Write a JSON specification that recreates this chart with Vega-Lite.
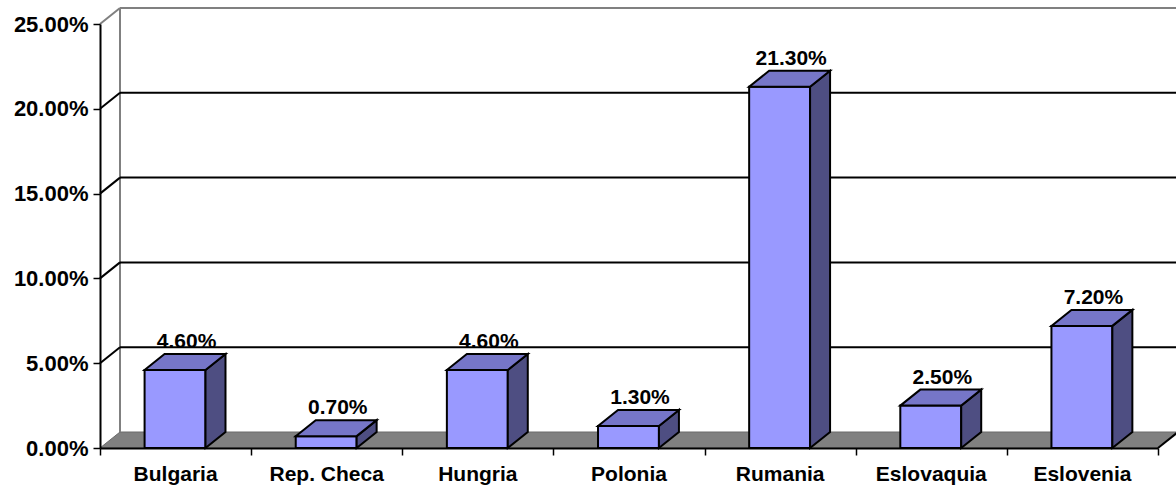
{
  "$schema": "https://vega.github.io/schema/vega-lite/v6.json",
  "width": 1058,
  "height": 424,
  "autosize": {"type": "none"},
  "padding": {"left": 100, "top": 24, "right": 18, "bottom": 39},
  "background": "white",
  "config": {"view": {"stroke": null}},
  "datasets": {
    "bars": [
      {"country": "Bulgaria", "value": 4.6},
      {"country": "Rep. Checa", "value": 0.7},
      {"country": "Hungria", "value": 4.6},
      {"country": "Polonia", "value": 1.3},
      {"country": "Rumania", "value": 21.3},
      {"country": "Eslovaquia", "value": 2.5},
      {"country": "Eslovenia", "value": 7.2}
    ],
    "ticks": [{"v": 0}, {"v": 5}, {"v": 10}, {"v": 15}, {"v": 20}, {"v": 25}]
  },
  "layer": [
    {
      "data": {"name": "ticks"},
      "transform": [
        {"filter": "datum.v == 0"},
        {"calculate": "[0,1,2,3]", "as": "k"},
        {"flatten": ["k"]},
        {"calculate": "(datum.k % 2)*0.13233 + (datum.k >= 2 ? 7 : 0)", "as": "fx"},
        {"calculate": "datum.k == 3 ? 0.9434 : 0", "as": "fy"},
        {"calculate": "datum.k >= 1 ? 0.9434 : 0", "as": "fy2"}
      ],
      "mark": {"type": "area", "fill": "#808080", "stroke": "#6a6a6a", "strokeWidth": 1},
      "encoding": {
        "x": {"field": "fx", "type": "quantitative", "scale": {"domain": [0, 7]},
              "axis": {"values": [0, 1, 2, 3, 4, 5, 6, 7], "labels": false, "title": null, "grid": false,
                       "tickSize": 7, "tickColor": "black", "tickWidth": 1.5, "domainColor": "black", "domainWidth": 2, "zindex": 1}},
        "y": {"field": "fy", "type": "quantitative", "scale": {"domain": [0, 25]},
              "axis": {"values": [0, 5, 10, 15, 20, 25], "labelExpr": "format(datum.value/100, '.2%')", "title": null, "grid": false,
                       "labelFont": "Liberation Sans", "labelFontWeight": "bold", "labelFontSize": 22, "labelColor": "black",
                       "labelPadding": 5, "tickSize": 7, "tickColor": "black", "tickWidth": 1.5, "domainColor": "black", "domainWidth": 2, "zindex": 1}},
        "y2": {"field": "fy2"}
      }
    },
    {
      "data": {"name": "ticks"},
      "transform": [{"filter": "datum.v == 0"}],
      "mark": {"type": "rule", "color": "#808080", "strokeWidth": 2, "xOffset": 20, "yOffset": -16, "y2Offset": -16},
      "encoding": {
        "x": {"datum": 0, "type": "quantitative", "scale": {"domain": [0, 7]}},
        "y": {"datum": 0, "type": "quantitative", "scale": {"domain": [0, 25]}},
        "y2": {"datum": 25}
      }
    },
    {
      "data": {"name": "ticks"},
      "transform": [{"filter": "datum.v > 0 && datum.v < 25"}],
      "mark": {"type": "rule", "color": "black", "strokeWidth": 2, "xOffset": 20, "x2Offset": 20, "yOffset": -16, "y2Offset": -16},
      "encoding": {
        "x": {"datum": 0, "type": "quantitative", "scale": {"domain": [0, 7]}},
        "x2": {"datum": 7.2},
        "y": {"field": "v", "type": "quantitative", "scale": {"domain": [0, 25]}},
        "y2": {"field": "v"}
      }
    },
    {
      "data": {"name": "ticks"},
      "transform": [{"filter": "datum.v == 25"}],
      "mark": {"type": "rule", "color": "#808080", "strokeWidth": 2, "xOffset": 20, "x2Offset": 20, "yOffset": -16, "y2Offset": -16},
      "encoding": {
        "x": {"datum": 0, "type": "quantitative", "scale": {"domain": [0, 7]}},
        "x2": {"datum": 7.2},
        "y": {"field": "v", "type": "quantitative", "scale": {"domain": [0, 25]}},
        "y2": {"field": "v"}
      }
    },
    {
      "data": {"name": "ticks"},
      "transform": [{"filter": "datum.v > 0 && datum.v < 25"}],
      "mark": {"type": "rule", "color": "black", "strokeWidth": 2, "x2Offset": 20, "y2Offset": -16},
      "encoding": {
        "x": {"datum": 0, "type": "quantitative", "scale": {"domain": [0, 7]}},
        "x2": {"datum": 0},
        "y": {"field": "v", "type": "quantitative", "scale": {"domain": [0, 25]}},
        "y2": {"field": "v"}
      }
    },
    {
      "data": {"name": "ticks"},
      "transform": [{"filter": "datum.v == 25"}],
      "mark": {"type": "rule", "color": "#808080", "strokeWidth": 2, "x2Offset": 20, "y2Offset": -16},
      "encoding": {
        "x": {"datum": 0, "type": "quantitative", "scale": {"domain": [0, 7]}},
        "x2": {"datum": 0},
        "y": {"field": "v", "type": "quantitative", "scale": {"domain": [0, 25]}},
        "y2": {"field": "v"}
      }
    },
    {
      "data": {"name": "ticks"},
      "transform": [{"filter": "datum.v == 0"}],
      "mark": {"type": "rule", "color": "black", "strokeWidth": 2, "x2Offset": 20, "y2Offset": -16},
      "encoding": {
        "x": {"datum": 7, "type": "quantitative", "scale": {"domain": [0, 7]}},
        "x2": {"datum": 7},
        "y": {"field": "v", "type": "quantitative", "scale": {"domain": [0, 25]}},
        "y2": {"field": "v"}
      }
    },
    {
      "data": {"name": "bars"},
      "transform": [
        {"window": [{"op": "row_number", "as": "n"}]},
        {"calculate": "datum.n-1+0.295", "as": "bx"},
        {"calculate": "datum.n-1+0.698", "as": "bx2"},
        {"calculate": "0", "as": "base"}
      ],
      "mark": {"type": "rect", "fill": "#9999FF", "stroke": "black", "strokeWidth": 2, "strokeJoin": "miter"},
      "encoding": {
        "x": {"field": "bx", "type": "quantitative", "scale": {"domain": [0, 7]}},
        "x2": {"field": "bx2"},
        "y": {"field": "base", "type": "quantitative", "scale": {"domain": [0, 25]}},
        "y2": {"field": "value"}
      }
    },
    {
      "data": {"name": "bars"},
      "transform": [
        {"window": [{"op": "row_number", "as": "n"}]},
        {"calculate": "[0,1]", "as": "t"},
        {"flatten": ["t"]},
        {"calculate": "datum.n-1+0.698+datum.t*0.13233", "as": "sx"},
        {"calculate": "datum.t*0.9434", "as": "sy"},
        {"calculate": "datum.value+datum.t*0.9434", "as": "sy2"}
      ],
      "mark": {"type": "area", "fill": "#4E4E82", "stroke": "black", "strokeWidth": 2, "strokeJoin": "miter"},
      "encoding": {
        "x": {"field": "sx", "type": "quantitative", "scale": {"domain": [0, 7]}},
        "y": {"field": "sy", "type": "quantitative", "scale": {"domain": [0, 25]}},
        "y2": {"field": "sy2"},
        "detail": {"field": "country"}
      }
    },
    {
      "data": {"name": "bars"},
      "transform": [
        {"window": [{"op": "row_number", "as": "n"}]},
        {"calculate": "[0,1,2,3]", "as": "k"},
        {"flatten": ["k"]},
        {"calculate": "datum.n-1+0.295+(datum.k % 2)*0.13233+(datum.k >= 2 ? 0.403 : 0)", "as": "tx"},
        {"calculate": "datum.value+(datum.k == 3 ? 0.9434 : 0)", "as": "ty"},
        {"calculate": "datum.value+(datum.k >= 1 ? 0.9434 : 0)", "as": "ty2"}
      ],
      "mark": {"type": "area", "fill": "#7676C8", "stroke": "black", "strokeWidth": 2, "strokeJoin": "miter"},
      "encoding": {
        "x": {"field": "tx", "type": "quantitative", "scale": {"domain": [0, 7]}},
        "y": {"field": "ty", "type": "quantitative", "scale": {"domain": [0, 25]}},
        "y2": {"field": "ty2"},
        "detail": {"field": "country"}
      }
    },
    {
      "data": {"name": "bars"},
      "transform": [
        {"window": [{"op": "row_number", "as": "n"}]},
        {"calculate": "datum.n-0.5", "as": "cx"},
        {"calculate": "format(datum.value/100, '.2%')", "as": "lab"}
      ],
      "mark": {"type": "text", "font": "Liberation Sans", "fontWeight": "bold", "fontSize": 21, "fill": "black", "baseline": "alphabetic", "align": "center", "dx": 11, "dy": -22},
      "encoding": {
        "x": {"field": "cx", "type": "quantitative", "scale": {"domain": [0, 7]}},
        "y": {"field": "value", "type": "quantitative", "scale": {"domain": [0, 25]}},
        "text": {"field": "lab"}
      }
    },
    {
      "data": {"name": "bars"},
      "transform": [
        {"window": [{"op": "row_number", "as": "n"}]},
        {"calculate": "datum.n-0.5", "as": "cx"},
        {"calculate": "0", "as": "base"}
      ],
      "mark": {"type": "text", "font": "Liberation Sans", "fontWeight": "bold", "fontSize": 21, "fill": "black", "baseline": "alphabetic", "align": "center", "dy": 33},
      "encoding": {
        "x": {"field": "cx", "type": "quantitative", "scale": {"domain": [0, 7]}},
        "y": {"field": "base", "type": "quantitative", "scale": {"domain": [0, 25]}},
        "text": {"field": "country"}
      }
    }
  ]
}
